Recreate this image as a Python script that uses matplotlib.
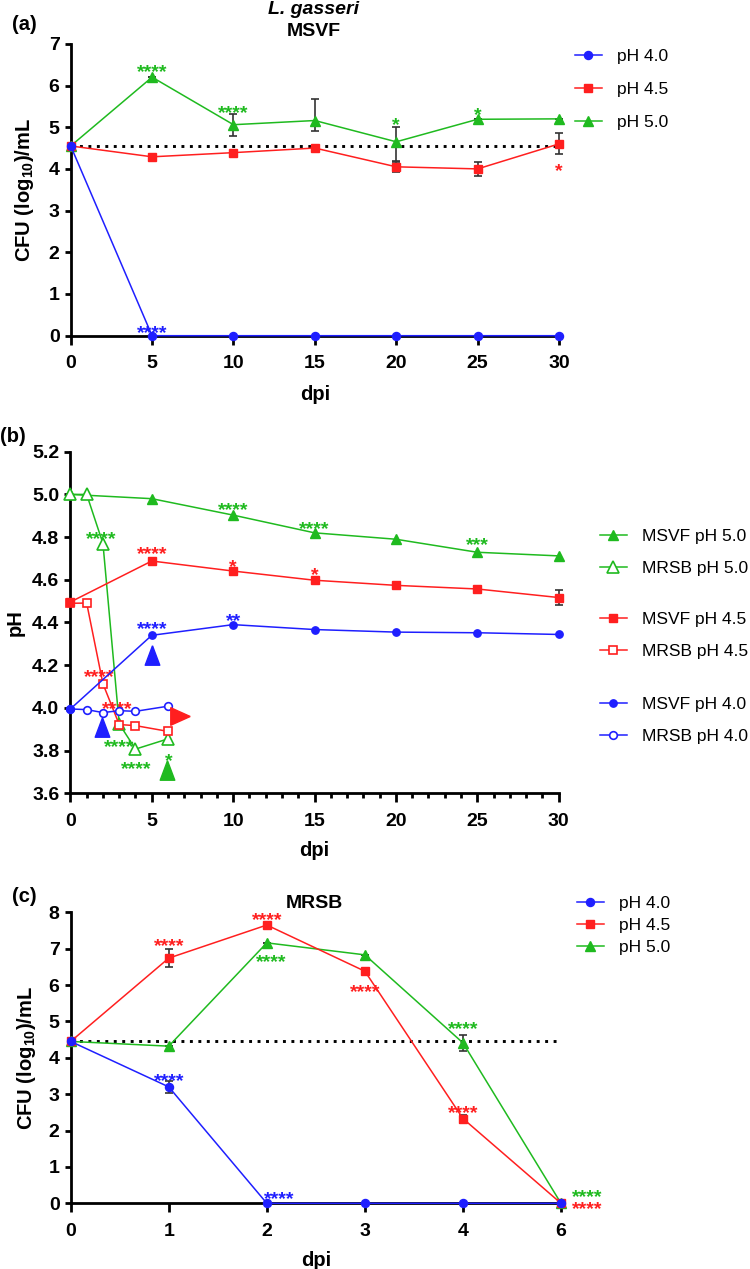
import matplotlib
matplotlib.use('Agg')
import matplotlib.pyplot as plt
import numpy as np
from matplotlib.lines import Line2D
from matplotlib.ticker import FormatStrFormatter, MultipleLocator

plt.rcParams['font.family'] = ['Liberation Sans', 'DejaVu Sans']
plt.rcParams['font.weight'] = 'bold'
plt.rcParams['axes.labelweight'] = 'bold'
plt.rcParams['mathtext.fontset'] = 'custom'
plt.rcParams['mathtext.rm'] = 'Liberation Sans:bold'
plt.rcParams['mathtext.bf'] = 'Liberation Sans:bold'
plt.rcParams['mathtext.it'] = 'Liberation Sans:bold:italic'

BLUE = '#1f1fff'
RED = '#ff1f1f'
GREEN = '#1fba1f'
ECOL = '#333333'

# ---------------- Panel (a): MSVF CFU ----------------
days_a = [0, 5, 10, 15, 20, 25, 30]
a_ph40 = [4.55, 0, 0, 0, 0, 0, 0]
a_ph45 = [4.55, 4.29, 4.39, 4.50, 4.05, 4.00, 4.60]
a_ph45_err = [0, 0, 0, 0, 0.12, 0.16, 0.25]
a_ph50 = [4.55, 6.20, 5.06, 5.16, 4.65, 5.19, 5.20]
a_ph50_err_lo = [0, 0, 0.28, 0.24, 0.45, 0, 0]
a_ph50_err_hi = [0, 0, 0.25, 0.51, 0.35, 0, 0]
a_baseline = 4.56
a_stars = [(5, 6.47, '****', GREEN), (10, 5.48, '****', GREEN), (20, 5.21, '*', GREEN),
           (25, 5.45, '*', GREEN), (30, 4.09, '*', RED), (5, 0.22, '****', BLUE)]

# ---------------- Panel (b): pH ----------------
days_b_msvf = [0, 5, 10, 15, 20, 25, 30]
b_msvf_50 = [5.00, 4.98, 4.903, 4.82, 4.79, 4.729, 4.712]
b_msvf_45 = [4.496, 4.688, 4.641, 4.598, 4.574, 4.557, 4.517]
b_msvf_45_err = [0, 0, 0, 0, 0, 0, 0.035]
b_msvf_40 = [3.995, 4.34, 4.39, 4.367, 4.355, 4.352, 4.344]
days_b_mrsb = [0, 1, 2, 3, 4, 6]
b_mrsb_50 = [5.00, 5.00, 4.77, 3.925, 3.807, 3.855]
b_mrsb_45 = [4.49, 4.491, 4.113, 3.922, 3.917, 3.89]
b_mrsb_40 = [3.995, 3.992, 3.978, 3.987, 3.984, 4.008]
b_stars = [(10, 4.954, '****', GREEN), (15, 4.868, '****', GREEN), (25, 4.793, '***', GREEN),
           (1.88, 4.82, '****', GREEN), (5, 4.75, '****', RED), (10, 4.69, '*', RED),
           (15, 4.653, '*', RED), (5, 4.397, '****', BLUE), (10, 4.437, '**', BLUE),
           (1.77, 4.172, '****', RED), (2.86, 4.026, '****', RED), (3.03, 3.845, '****', GREEN),
           (4.02, 3.743, '****', GREEN), (6.02, 3.78, '*', GREEN)]
arrow_x = [5.0, 1.96, 5.96, 6.74]
arrow_y = [4.25, 3.909, 3.709, 3.964]
arrow_dir = ['up', 'up', 'up', 'right']
arrow_c = [BLUE, BLUE, GREEN, RED]

# ---------------- Panel (c): MRSB CFU ----------------
days_c = [0, 1, 2, 3, 4, 6]
c_ph40 = [4.45, 3.20, 0, 0, 0, 0]
c_ph40_err = [0, 0.16, 0, 0, 0, 0]
c_ph45 = [4.45, 6.74, 7.65, 6.38, 2.33, 0]
c_ph45_err = [0, 0.25, 0, 0, 0.11, 0]
c_ph50 = [4.45, 4.32, 7.16, 6.83, 4.41, 0]
c_ph50_err = [0, 0, 0, 0, 0.22, 0]
c_baseline = 4.46
c_stars = [(1, 7.24, '****', RED), (2, 7.95, '****', RED), (2.04, 6.80, '****', GREEN),
           (3, 5.98, '****', RED), (4, 4.95, '****', GREEN), (4, 2.64, '****', RED),
           (1, 3.53, '****', BLUE), (2.13, 0.29, '****', BLUE), (5.27, 0.33, '****', GREEN),
           (5.27, 0.02, '****', RED)]

W, H = 750, 1269
fig = plt.figure(figsize=(W / 100, H / 100), dpi=100)


def fx(px):
    return px / W


def fy(py):
    return 1 - py / H


def axes_px(l, t, r, b):
    return fig.add_axes([fx(l), fy(b), (r - l) / W, (b - t) / H])


def style(ax):
    for s in ['top', 'right']:
        ax.spines[s].set_visible(False)
    for s in ['left', 'bottom']:
        ax.spines[s].set_linewidth(2)
    ax.tick_params(axis='both', which='major', width=2, labelsize=14, direction='out')
    ax.tick_params(axis='x', which='major', length=6.5, pad=7.5)
    ax.tick_params(axis='y', which='major', length=4, pad=4)


def stars(ax, items, fs=14):
    for x, y, t, c in items:
        ax.annotate(t, (x, y), xytext=(0, -0.58 * fs), textcoords='offset points',
                    ha='center', va='baseline', color=c, fontsize=fs, fontweight='bold',
                    annotation_clip=False)


UP = [(0, 1), (-0.75, -1), (0.75, -1), (0, 1)]
RIGHT = [(1, 0), (-1, 0.9), (-1, -0.9), (1, 0)]

lw = 1.1
ekw = dict(ecolor=ECOL, elinewidth=1.2, capsize=2.8, capthick=1.2)
leg_prop = dict(size=12.5, weight='normal')

# ---------- (a) ----------
axa = axes_px(70.7, 43.8, 559, 335.7)
axa.plot([0, 30], [a_baseline, a_baseline], color='k', lw=2.1, ls=(0, (1, 1.9)), zorder=1)
axa.errorbar(days_a, a_ph50, yerr=[a_ph50_err_lo, a_ph50_err_hi], color=GREEN, lw=lw,
             marker='^', ms=7.5, mec=GREEN, clip_on=False, zorder=3, **ekw)
axa.errorbar(days_a, a_ph45, yerr=a_ph45_err, color=RED, lw=lw, marker='s', ms=6.3,
             mec=RED, clip_on=False, zorder=4, **ekw)
axa.plot(days_a, a_ph40, color=BLUE, lw=lw, marker='o', ms=5.8, mec=BLUE,
         clip_on=False, zorder=5)
axa.set_xlim(0, 30)
axa.set_ylim(0, 7)
axa.set_xticks(days_a)
axa.set_yticks(range(0, 8))
style(axa)
stars(axa, a_stars)
axa.set_xlabel('dpi', fontsize=14.5, labelpad=9)

fig.text(fx(25), fy(189.7), r'CFU (log$_{10}$)/mL', rotation=90, ha='center', va='center', fontsize=14.5)
fig.text(fx(12), fy(25), '(a)', ha='left', va='center', fontsize=14.5)
fig.text(fx(314), fy(9.5), 'L. gasseri', style='italic', ha='center', va='center', fontsize=14)
fig.text(fx(314), fy(32), 'MSVF', ha='center', va='center', fontsize=14)

hA = [Line2D([], [], color=BLUE, lw=lw, marker='o', ms=5.8),
      Line2D([], [], color=RED, lw=lw, marker='s', ms=6.3),
      Line2D([], [], color=GREEN, lw=lw, marker='^', ms=7.5)]
fig.legend(hA, ['pH 4.0', 'pH 4.5', 'pH 5.0'], loc='upper left',
           bbox_to_anchor=(fx(575), fy(48.5)), frameon=False, borderpad=0, borderaxespad=0,
           handlelength=1.55, handletextpad=0.85, labelspacing=1.05, prop=leg_prop)

# ---------- (b) ----------
axb = axes_px(70.4, 451.7, 558.6, 793.3)
axb.plot(days_b_msvf, b_msvf_50, color=GREEN, lw=lw, marker='^', ms=7, mec=GREEN,
         clip_on=False, zorder=3)
axb.plot(days_b_mrsb, b_mrsb_50, color=GREEN, lw=lw, marker='^', ms=8.5, mfc='white',
         mec=GREEN, mew=1.2, clip_on=False, zorder=4)
axb.plot(days_b_mrsb, b_mrsb_45, color=RED, lw=lw, marker='s', ms=6.2, mfc='white',
         mec=RED, mew=1.2, clip_on=False, zorder=5)
axb.errorbar(days_b_msvf, b_msvf_45, yerr=b_msvf_45_err, color=RED, lw=lw, marker='s',
             ms=6.2, mec=RED, clip_on=False, zorder=6, **ekw)
axb.plot(days_b_mrsb, b_mrsb_40, color=BLUE, lw=lw, marker='o', ms=5.5, mfc='white',
         mec=BLUE, mew=1.2, clip_on=False, zorder=7)
axb.plot(days_b_msvf, b_msvf_40, color=BLUE, lw=lw, marker='o', ms=5.3, mec=BLUE,
         clip_on=False, zorder=8)
for x, y, d, c in zip(arrow_x, arrow_y, arrow_dir, arrow_c):
    axb.plot([x], [y], ls='none', marker=UP if d == 'up' else RIGHT, ms=14,
             color=c, mec=c, zorder=9)
axb.set_xlim(0, 30)
axb.set_ylim(3.6, 5.2)
axb.set_xticks(range(0, 31, 5))
axb.xaxis.set_minor_locator(MultipleLocator(1))
axb.set_yticks(np.arange(3.6, 5.21, 0.2))
axb.yaxis.set_major_formatter(FormatStrFormatter('%.1f'))
style(axb)
axb.tick_params(axis='x', which='minor', length=3.5, width=2, direction='out')
stars(axb, b_stars)
axb.set_xlabel('dpi', fontsize=14.5, labelpad=8)
fig.text(fx(15.5), fy(622.5), 'pH', rotation=90, ha='center', va='center', fontsize=14.5)
fig.text(fx(0), fy(437), '(b)', ha='left', va='center', fontsize=14.5)

hB = [
    [Line2D([], [], color=GREEN, lw=lw, marker='^', ms=7),
     Line2D([], [], color=GREEN, lw=lw, marker='^', ms=8.5, mfc='white', mew=1.2)],
    [Line2D([], [], color=RED, lw=lw, marker='s', ms=6.2),
     Line2D([], [], color=RED, lw=lw, marker='s', ms=6.2, mfc='white', mew=1.2)],
    [Line2D([], [], color=BLUE, lw=lw, marker='o', ms=5.3),
     Line2D([], [], color=BLUE, lw=lw, marker='o', ms=5.5, mfc='white', mew=1.2)],
]
lB = [['MSVF pH 5.0', 'MRSB pH 5.0'], ['MSVF pH 4.5', 'MRSB pH 4.5'],
      ['MSVF pH 4.0', 'MRSB pH 4.0']]
tops = [529, 612, 697]
for hs, ls_, t in zip(hB, lB, tops):
    fig.legend(hs, ls_, loc='upper left', bbox_to_anchor=(fx(600), fy(t)),
               frameon=False, borderpad=0, borderaxespad=0, handlelength=1.55,
               handletextpad=0.85, labelspacing=0.95, prop=leg_prop)

# ---------- (c) ----------
axc = axes_px(70.7, 912.3, 561, 1203.3)
pos = np.arange(len(days_c))
axc.plot([pos[0], pos[-1]], [c_baseline, c_baseline], color='k', lw=2.1, ls=(0, (1, 1.9)), zorder=1)
axc.errorbar(pos, c_ph50, yerr=c_ph50_err, color=GREEN, lw=lw, marker='^', ms=7.5,
             mec=GREEN, clip_on=False, zorder=3, **ekw)
axc.errorbar(pos, c_ph45, yerr=c_ph45_err, color=RED, lw=lw, marker='s', ms=6.3,
             mec=RED, clip_on=False, zorder=4, **ekw)
axc.errorbar(pos, c_ph40, yerr=c_ph40_err, color=BLUE, lw=lw, marker='o', ms=5.8,
             mec=BLUE, clip_on=False, zorder=5, **ekw)
axc.set_xlim(0, 5)
axc.set_ylim(0, 8)
axc.set_xticks(pos)
axc.set_xticklabels([str(d) for d in days_c])
axc.set_yticks(range(0, 9))
style(axc)
stars(axc, c_stars)
axc.set_xlabel('dpi', fontsize=14.5, labelpad=8)
fig.text(fx(26), fy(1057.8), r'CFU (log$_{10}$)/mL', rotation=90, ha='center', va='center', fontsize=14.5)
fig.text(fx(12), fy(897), '(c)', ha='left', va='center', fontsize=14.5)
fig.text(fx(314), fy(903), 'MRSB', ha='center', va='center', fontsize=14)
fig.legend(hA, ['pH 4.0', 'pH 4.5', 'pH 5.0'], loc='upper left',
           bbox_to_anchor=(fx(577), fy(896)), frameon=False, borderpad=0, borderaxespad=0,
           handlelength=1.55, handletextpad=0.85, labelspacing=0.4, prop=leg_prop)

fig.savefig('out.png', dpi=100)
